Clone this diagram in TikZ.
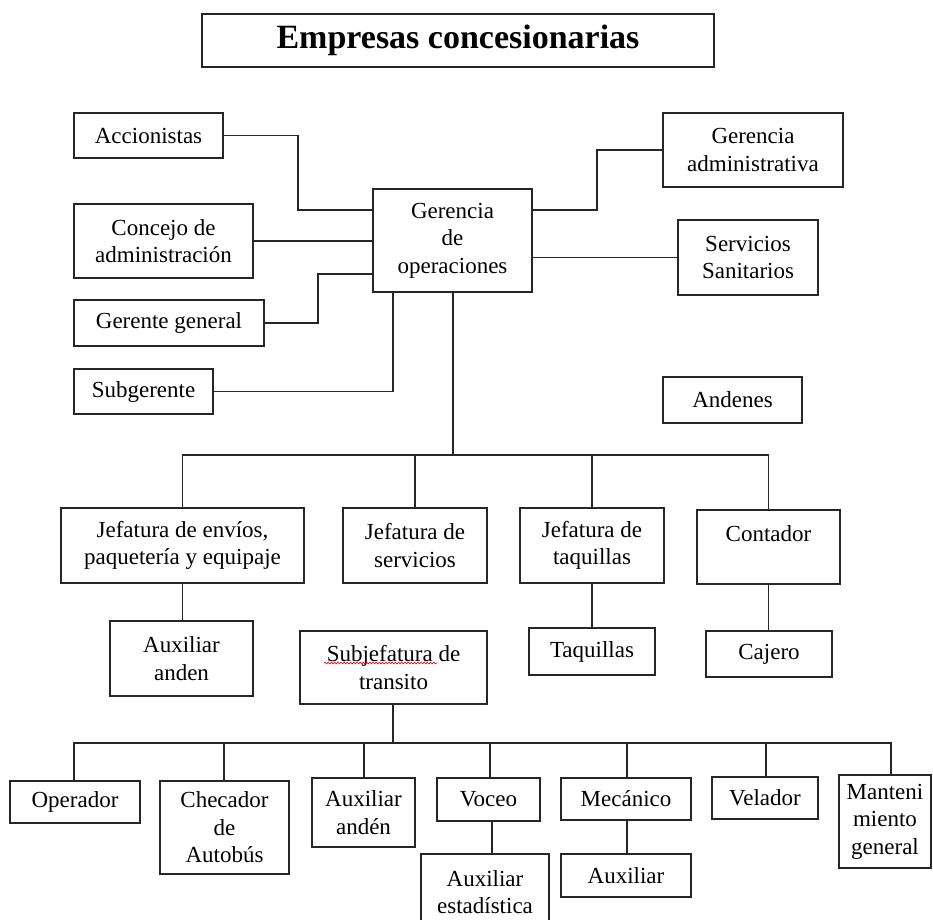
\documentclass[tikz,border=0pt]{standalone}
\usepackage{fontspec}
\setmainfont{Liberation Serif}
\usetikzlibrary{decorations.pathmorphing}
\begin{document}
\begin{tikzpicture}[x=1pt,y=-1pt,
  box/.style={draw=black!85, line width=1.2pt, inner sep=0pt, align=center,
    font=\fontsize{23}{27.5}\selectfont},
  sz/.style 2 args={minimum width=#1pt, minimum height=#2pt},
  conn/.style={draw=black!85, line width=1.2pt, line join=miter}
]
\useasboundingbox[fill=white] (0,0) rectangle (933,919);

% title
\node[box, sz={512}{53}, font=\bfseries\fontsize{34}{40}\selectfont] (title) at (458,40.5) {Empresas concesionarias};

% top level
\node[box, sz={149}{45}] (acc) at (148.5,135.5) {Accionistas};
\node[box, sz={179}{74}] (con) at (163.5,241) {Concejo de\\administración};
\node[box, sz={190}{46}] (gg) at (169,323) {Gerente general};
\node[box, sz={139}{45}] (sub) at (143.5,391.5) {Subgerente};
\node[box, sz={159}{103}] (gop) at (452.5,240.5) {Gerencia\\de\\operaciones};
\node[box, sz={180}{74}] (gad) at (753,150) {Gerencia\\administrativa};
\node[box, sz={140}{75}] (ss) at (748,257.5) {Servicios\\Sanitarios};
\node[box, sz={139}{46}] (and) at (732.5,400) {Andenes};

% second level
\node[box, sz={243}{75}] (je) at (182.5,545.5) {Jefatura de envíos,\\paquetería y equipaje};
\node[box, sz={144}{75}] (js) at (415,545.5) {Jefatura de\\servicios};
\node[box, sz={144}{75}] (jt) at (592,545.5) {Jefatura de\\taquillas};
\node[box, sz={143}{74}] (co) at (768.5,547) {Contador\\\mbox{}};

% third level
\node[box, sz={143}{75}] (aa) at (181.5,658.5) {Auxiliar\\anden};
\node[box, sz={187}{73}] (sj) at (393.5,667.5) {Subjefatura de\\transito};
\node[box, sz={126}{47}] (taq) at (592,651.5) {Taquillas};
\node[box, sz={126}{46}] (caj) at (769,654) {Cajero};

% bottom level
\node[box, sz={130}{42}] (op) at (75,802) {Operador};
\node[box, sz={129}{93}] (ch) at (224.5,827.5) {Checador\\de\\Autobús};
\node[box, sz={103}{69}] (aan) at (363.5,812.5) {Auxiliar\\andén};
\node[box, sz={103}{43}] (vo) at (488.5,799.5) {Voceo};
\node[box, sz={128}{76}] (ae) at (485,892) {Auxiliar\\estadística};
\node[box, sz={130}{42}] (me) at (626,799) {Mecánico};
\node[box, sz={130}{43}] (au) at (626,875.5) {Auxiliar};
\node[box, sz={106}{42}] (ve) at (765,798) {Velador};
\node[box, sz={92}{93}] (mt) at (885,821.5) {Manteni\\miento\\general};

% spell-check underline
\draw[red!85!black, line width=0.6pt, decorate,
  decoration={snake, amplitude=0.9pt, segment length=3.2pt}] (324,663) -- (437,663);

% connectors, top
\draw[conn] (acc.east) -| (298,210) -- (gop.west |- 0,210);
\draw[conn] (con.east) -- (gop.west |- con.east);
\draw[conn] (gg.east) -| (318,274) -- (gop.west |- 0,274);
\draw[conn] (sub.east) -| (gop.south -| 393,0);
\draw[conn] (gop.east |- 0,210) -- (597,210) |- (gad.west);
\draw[conn] (gop.east |- ss.west) -- (ss.west);

% trunk and bus 1
\coordinate (bus1) at (453,455);
\draw[conn] (gop.south -| bus1) -- (bus1);
\draw[conn] (je.north) -- (je.north |- bus1) -- (co.north |- bus1) -- (co.north);
\draw[conn] (js.north) -- (js.north |- bus1);
\draw[conn] (jt.north) -- (jt.north |- bus1);

\draw[conn] (je.south) -- (je.south |- aa.north);
\draw[conn] (jt.south) -- (taq.north);
\draw[conn] (co.south) -- (co.south |- caj.north);

% bus 2
\coordinate (bus2) at (393,743);
\draw[conn] (sj.south -| bus2) -- (bus2);
\draw[conn] (op.north -| 74,0) -- (bus2 -| 74,0) -- (bus2 -| 891,0) -- (mt.north -| 891,0);
\draw[conn] (ch.north -| 224,0) -- (bus2 -| 224,0);
\draw[conn] (aan.north -| 364,0) -- (bus2 -| 364,0);
\draw[conn] (vo.north -| 490,0) -- (bus2 -| 490,0);
\draw[conn] (me.north -| 627,0) -- (bus2 -| 627,0);
\draw[conn] (ve.north -| 766,0) -- (bus2 -| 766,0);

\draw[conn] (vo.south -| 492,0) -- (ae.north -| 492,0);
\draw[conn] (me.south -| 627,0) -- (au.north -| 627,0);
\end{tikzpicture}
\end{document}
